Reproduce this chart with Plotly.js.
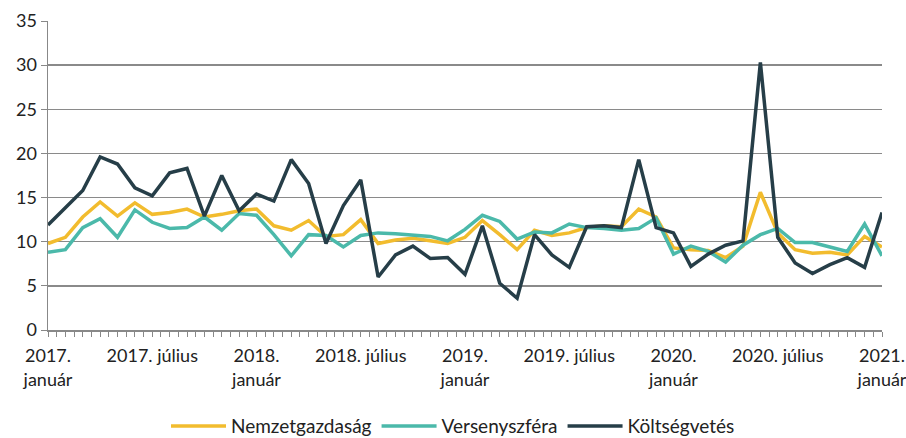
<!DOCTYPE html>
<html><head><meta charset="utf-8">
<script src="https://cdn.plot.ly/plotly-3.0.1.min.js"></script>
<style>body{margin:0;padding:0;background:#fff}#chart{width:906px;height:438px}</style>
</head><body><div id="chart"></div>
<script>
// months index 0 = 2017. január ... 48 = 2021. január
const months = Array.from({length: 49}, (_, i) => i);
const tickVals = [0, 6, 12, 18, 24, 30, 36, 42, 48];
const tickLabels = ["2017.<br>január", "2017. július", "2018.<br>január", "2018. július",
  "2019.<br>január", "2019. július", "2020.<br>január", "2020. július", "2021.<br>január"];

const nemzetgazdasag = [9.8,10.5,12.8,14.5,12.9,14.4,13.1,13.3,13.7,12.8,13.1,13.5,13.7,11.8,11.3,
  12.4,10.6,10.8,12.5,9.8,10.2,10.4,10.1,9.8,10.5,12.4,10.8,9.1,11.3,10.7,11.0,
  11.6,11.8,11.7,13.7,12.8,9.3,9.1,9.0,8.2,9.5,15.6,11.0,9.1,8.7,8.8,8.5,10.6,9.4];
const versenyszfera = [8.8,9.1,11.6,12.6,10.5,13.6,12.2,11.5,11.6,12.8,11.3,13.2,13.0,10.8,8.4,
  10.8,10.7,9.4,10.7,11.0,10.9,10.7,10.6,10.1,11.4,13.0,12.3,10.3,11.1,11.0,12.0,
  11.6,11.5,11.3,11.5,12.7,8.6,9.5,8.9,7.7,9.6,10.8,11.5,9.9,9.9,9.4,8.9,12.0,8.4];
const koltsegvetes = [11.9,13.9,15.8,19.6,18.8,16.1,15.2,17.8,18.3,12.9,17.5,13.5,15.4,14.6,19.3,
  16.6,9.8,14.1,17.0,6.0,8.5,9.5,8.1,8.2,6.3,11.8,5.3,3.6,10.8,8.5,7.1,
  11.7,11.8,11.6,19.3,11.6,11.0,7.2,8.6,9.6,10.1,30.3,10.5,7.6,6.4,7.4,8.2,7.1,13.3];

const FONT = 'Lato, "Open Sans", sans-serif';
const traces = [
  {x: months, y: nemzetgazdasag, name: "Nemzetgazdaság", mode: "lines", line: {color: "#F2BC2E", width: 3.5}},
  {x: months, y: versenyszfera, name: "Versenyszféra", mode: "lines", line: {color: "#4BB9AA", width: 3.5}},
  {x: months, y: koltsegvetes, name: "Költségvetés", mode: "lines", line: {color: "#263E48", width: 3.5}}
];
const layout = {
  width: 906, height: 438,
  margin: {l: 48, r: 24, t: 21, b: 108, autoexpand: false},
  paper_bgcolor: "#fff", plot_bgcolor: "#fff",
  font: {family: FONT, size: 18, color: "#222"},
  showlegend: true,
  legend: {orientation: "h", x: 0.5, xanchor: "center", xref: "container",
    y: 0.027, yanchor: "middle", yref: "container",
    font: {family: FONT, size: 19, color: "#222"}, itemwidth: 55, tracegroupgap: 0},
  xaxis: {range: [0, 48], tickmode: "array", tickvals: tickVals, ticktext: tickLabels,
    showgrid: false, zeroline: false, showline: true, linecolor: "#888", linewidth: 1.5,
    ticks: "outside", ticklen: 5, tickcolor: "#888", tickwidth: 1,
    minor: {dtick: 0.5, tick0: 0, ticks: "outside", ticklen: 5, tickcolor: "#888", tickwidth: 1, showgrid: false},
    ticklabeloverflow: "allow", ticklabelstandoff: 4,
    tickfont: {family: FONT, size: 18, color: "#222"}, fixedrange: true},
  yaxis: {range: [0, 35], dtick: 5, tick0: 0, showgrid: true, gridcolor: "#8a8a8a", gridwidth: 1.5,
    zeroline: false, showline: true, linecolor: "#888", linewidth: 1.5,
    ticks: "outside", ticklen: 6, tickcolor: "#888",
    tickfont: {family: FONT, size: 18, color: "#222"}, fixedrange: true}
};
Plotly.newPlot("chart", traces, layout, {displayModeBar: false, staticPlot: true});
</script></body></html>
